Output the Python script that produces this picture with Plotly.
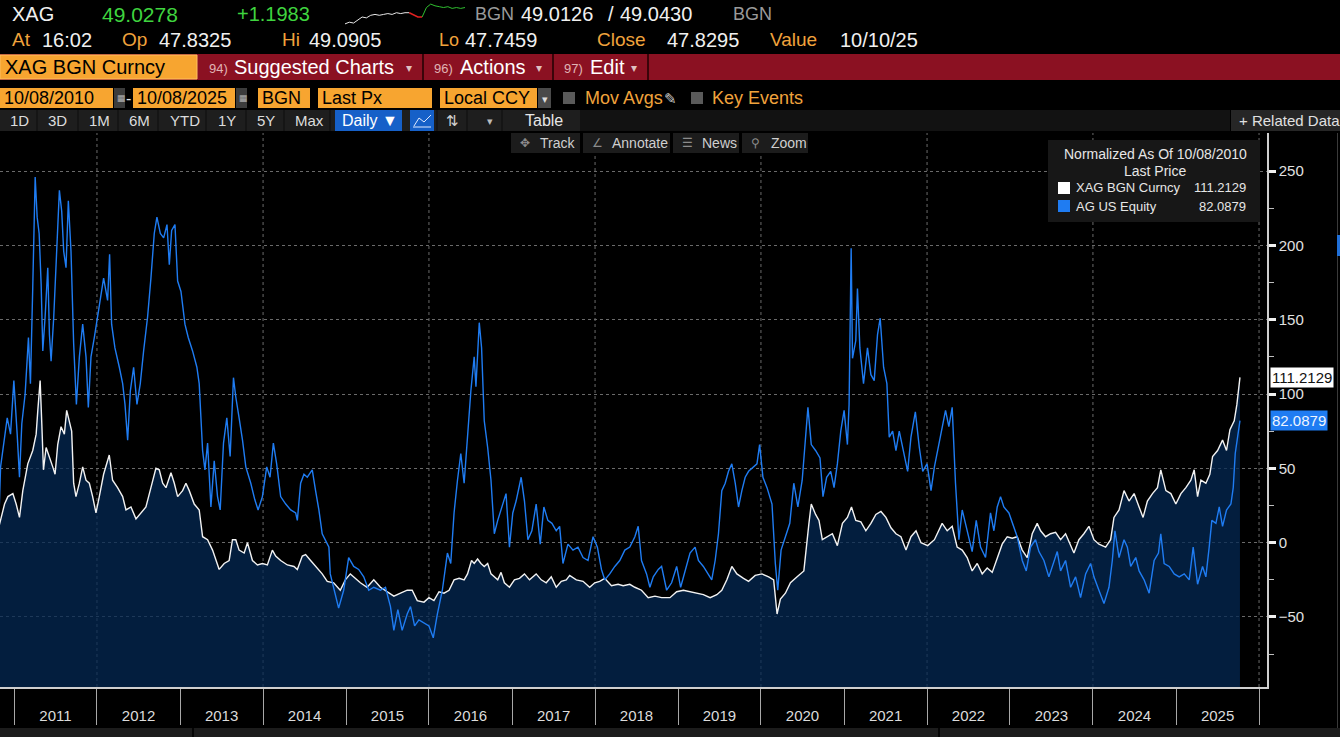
import pandas as pd
import numpy as np
import plotly.graph_objects as go

W, H = 1340, 737
FONT = "Liberation Sans, Arial, sans-serif"

# Normalized % change since 10/08/2010 (decimal year -> value)
xag_t = [2010.770, 2010.806, 2010.846, 2010.886, 2010.926, 2010.986, 2011.026, 2011.066, 2011.106, 2011.166,
         2011.226, 2011.267, 2011.287, 2011.315, 2011.335, 2011.355, 2011.387, 2011.427, 2011.467, 2011.495,
         2011.527, 2011.567, 2011.607, 2011.635, 2011.667, 2011.695, 2011.719, 2011.747, 2011.788, 2011.828,
         2011.868, 2011.908, 2011.948, 2011.988, 2012.028, 2012.080, 2012.148, 2012.188, 2012.248, 2012.309,
         2012.349, 2012.409, 2012.469, 2012.529, 2012.589, 2012.649, 2012.709, 2012.749, 2012.790, 2012.830,
         2012.890, 2012.930, 2012.970, 2013.030, 2013.070, 2013.110, 2013.170, 2013.230, 2013.271, 2013.331,
         2013.391, 2013.471, 2013.531, 2013.591, 2013.631, 2013.671, 2013.711, 2013.772, 2013.812, 2013.872,
         2013.932, 2013.992, 2014.052, 2014.112, 2014.152, 2014.212, 2014.293, 2014.373, 2014.413, 2014.473,
         2014.513, 2014.573, 2014.633, 2014.713, 2014.774, 2014.851, 2014.931, 2014.992, 2015.052, 2015.113,
         2015.173, 2015.254, 2015.335, 2015.415, 2015.496, 2015.577, 2015.657, 2015.738, 2015.798, 2015.859,
         2015.940, 2016.000, 2016.060, 2016.121, 2016.181, 2016.242, 2016.302, 2016.363, 2016.423, 2016.464,
         2016.512, 2016.544, 2016.585, 2016.625, 2016.665, 2016.706, 2016.746, 2016.786, 2016.827, 2016.867,
         2016.907, 2016.968, 2017.028, 2017.089, 2017.149, 2017.210, 2017.290, 2017.351, 2017.411, 2017.472,
         2017.532, 2017.593, 2017.653, 2017.694, 2017.774, 2017.855, 2017.935, 2017.996, 2018.056, 2018.117,
         2018.198, 2018.278, 2018.339, 2018.419, 2018.480, 2018.560, 2018.641, 2018.722, 2018.802, 2018.903,
         2018.984, 2019.065, 2019.145, 2019.226, 2019.306, 2019.387, 2019.468, 2019.528, 2019.589, 2019.649,
         2019.710, 2019.790, 2019.851, 2019.931, 2020.012, 2020.093, 2020.153, 2020.194, 2020.234, 2020.294,
         2020.355, 2020.435, 2020.516, 2020.577, 2020.605, 2020.657, 2020.698, 2020.738, 2020.798, 2020.859,
         2020.919, 2020.980, 2021.040, 2021.089, 2021.141, 2021.202, 2021.262, 2021.323, 2021.383, 2021.444,
         2021.504, 2021.565, 2021.625, 2021.685, 2021.746, 2021.806, 2021.867, 2021.927, 2022.008, 2022.089,
         2022.182, 2022.243, 2022.303, 2022.363, 2022.424, 2022.484, 2022.544, 2022.605, 2022.665, 2022.725,
         2022.786, 2022.846, 2022.906, 2022.967, 2023.027, 2023.087, 2023.148, 2023.208, 2023.268, 2023.328,
         2023.369, 2023.429, 2023.489, 2023.550, 2023.610, 2023.670, 2023.731, 2023.771, 2023.831, 2023.891,
         2023.952, 2024.012, 2024.072, 2024.153, 2024.213, 2024.253, 2024.314, 2024.374, 2024.434, 2024.495,
         2024.555, 2024.603, 2024.655, 2024.716, 2024.776, 2024.816, 2024.877, 2024.937, 2024.997, 2025.058,
         2025.118, 2025.178, 2025.218, 2025.259, 2025.299, 2025.359, 2025.407, 2025.440, 2025.500, 2025.560,
         2025.608, 2025.649, 2025.701, 2025.733, 2025.770]
xag_v = [0, 8, 17, 26, 31, 33, 26, 17, 35, 53,
         62, 73, 89, 109, 80, 49, 64, 58, 51, 46,
         66, 78, 73, 89, 82, 75, 40, 31, 40, 51,
         42, 40, 31, 20, 31, 46, 59, 42, 37, 31,
         22, 24, 16, 20, 24, 37, 50, 49, 40, 37,
         47, 40, 31, 35, 40, 35, 26, 22, 4, 2,
         -5, -18, -14, -12, 2, 2, -5, -7, 0, -12,
         -15, -14, -15, -5, -9, -12, -15, -16, -18, -9,
         -8, -12, -16, -21, -26, -27, -32, -25, -21, -24,
         -27, -30, -25, -30, -33, -36, -34, -32, -32, -39,
         -40, -37, -39, -33, -34, -32, -25, -24, -25, -21,
         -12, -14, -11, -14, -16, -14, -21, -23, -25, -20,
         -27, -30, -25, -24, -21, -25, -21, -25, -27, -23,
         -30, -26, -25, -22, -25, -26, -30, -27, -26, -24,
         -29, -28, -29, -28, -30, -32, -37, -36, -37, -37,
         -33, -32, -33, -34, -35, -37, -35, -32, -25, -16,
         -21, -24, -26, -22, -21, -23, -25, -48, -38, -34,
         -27, -23, -19, 13, 26, 19, 15, 2, 4, 6,
         -2, 13, 17, 24, 15, 14, 8, 13, 19, 21,
         17, 10, 6, 4, -5, 4, 8, 0, -2, 2,
         13, 8, 11, -3, -5, -10, -19, -14, -21, -17,
         -20, -10, -1, 4, 3, 4, -5, -10, 6, 13,
         8, 4, 6, 7, 2, 6, -2, -7, 2, 6,
         11, 2, -1, -3, 2, 17, 22, 35, 28, 33,
         24, 17, 28, 33, 37, 49, 35, 33, 26, 33,
         37, 42, 49, 31, 42, 40, 46, 58, 62, 69,
         62, 76, 82, 93, 111.2129]

ag_t = [2010.770, 2010.806, 2010.838, 2010.878, 2010.918, 2010.958, 2010.998, 2011.038, 2011.066, 2011.094,
        2011.134, 2011.174, 2011.198, 2011.226, 2011.255, 2011.279, 2011.303, 2011.327, 2011.347, 2011.375,
        2011.407, 2011.427, 2011.447, 2011.479, 2011.507, 2011.547, 2011.575, 2011.599, 2011.627, 2011.655,
        2011.687, 2011.719, 2011.752, 2011.788, 2011.828, 2011.868, 2011.896, 2011.928, 2011.968, 2012.008,
        2012.048, 2012.080, 2012.128, 2012.152, 2012.176, 2012.216, 2012.269, 2012.309, 2012.337, 2012.369,
        2012.401, 2012.441, 2012.481, 2012.521, 2012.561, 2012.609, 2012.649, 2012.689, 2012.721, 2012.762,
        2012.802, 2012.842, 2012.870, 2012.898, 2012.938, 2012.970, 2013.010, 2013.058, 2013.098, 2013.150,
        2013.202, 2013.230, 2013.271, 2013.299, 2013.331, 2013.371, 2013.411, 2013.451, 2013.483, 2013.523,
        2013.563, 2013.603, 2013.643, 2013.671, 2013.711, 2013.752, 2013.792, 2013.852, 2013.900, 2013.940,
        2013.992, 2014.044, 2014.084, 2014.124, 2014.164, 2014.212, 2014.273, 2014.333, 2014.393, 2014.413,
        2014.453, 2014.493, 2014.533, 2014.593, 2014.633, 2014.673, 2014.713, 2014.753, 2014.794, 2014.810,
        2014.851, 2014.911, 2014.972, 2015.032, 2015.093, 2015.153, 2015.214, 2015.274, 2015.335, 2015.415,
        2015.476, 2015.536, 2015.577, 2015.625, 2015.677, 2015.738, 2015.778, 2015.827, 2015.879, 2015.940,
        2016.000, 2016.052, 2016.101, 2016.161, 2016.222, 2016.262, 2016.302, 2016.343, 2016.383, 2016.423,
        2016.464, 2016.504, 2016.544, 2016.565, 2016.605, 2016.633, 2016.665, 2016.706, 2016.746, 2016.786,
        2016.827, 2016.867, 2016.927, 2016.968, 2017.008, 2017.048, 2017.109, 2017.149, 2017.190, 2017.238,
        2017.290, 2017.339, 2017.383, 2017.431, 2017.480, 2017.532, 2017.573, 2017.613, 2017.673, 2017.734,
        2017.794, 2017.855, 2017.915, 2017.976, 2018.028, 2018.077, 2018.117, 2018.177, 2018.238, 2018.298,
        2018.359, 2018.419, 2018.480, 2018.520, 2018.560, 2018.621, 2018.661, 2018.702, 2018.762, 2018.802,
        2018.863, 2018.923, 2018.984, 2019.032, 2019.085, 2019.145, 2019.206, 2019.246, 2019.306, 2019.367,
        2019.407, 2019.448, 2019.488, 2019.528, 2019.569, 2019.609, 2019.649, 2019.690, 2019.730, 2019.770,
        2019.810, 2019.851, 2019.911, 2019.952, 2019.984, 2020.024, 2020.073, 2020.133, 2020.173, 2020.202,
        2020.242, 2020.294, 2020.347, 2020.395, 2020.444, 2020.496, 2020.536, 2020.565, 2020.605, 2020.657,
        2020.710, 2020.746, 2020.790, 2020.839, 2020.879, 2020.919, 2020.960, 2021.000, 2021.040, 2021.060,
        2021.085, 2021.101, 2021.141, 2021.161, 2021.190, 2021.234, 2021.282, 2021.323, 2021.363, 2021.403,
        2021.435, 2021.476, 2021.516, 2021.544, 2021.585, 2021.625, 2021.665, 2021.726, 2021.766, 2021.806,
        2021.859, 2021.907, 2021.948, 2022.000, 2022.048, 2022.089, 2022.129, 2022.182, 2022.223, 2022.263,
        2022.303, 2022.343, 2022.384, 2022.424, 2022.484, 2022.544, 2022.593, 2022.645, 2022.705, 2022.765,
        2022.806, 2022.846, 2022.886, 2022.926, 2022.987, 2023.027, 2023.087, 2023.148, 2023.196, 2023.248,
        2023.308, 2023.349, 2023.409, 2023.469, 2023.530, 2023.570, 2023.610, 2023.670, 2023.731, 2023.791,
        2023.851, 2023.912, 2023.972, 2024.012, 2024.072, 2024.133, 2024.193, 2024.233, 2024.265, 2024.314,
        2024.374, 2024.414, 2024.454, 2024.515, 2024.555, 2024.615, 2024.676, 2024.736, 2024.788, 2024.816,
        2024.856, 2024.917, 2024.977, 2025.037, 2025.098, 2025.158, 2025.206, 2025.259, 2025.319, 2025.359,
        2025.399, 2025.431, 2025.480, 2025.520, 2025.560, 2025.608, 2025.661, 2025.689, 2025.713, 2025.741,
        2025.770]
ag_v = [0, -5, 51, 67, 84, 73, 109, 73, 44, 80,
        100, 138, 107, 172, 246, 219, 208, 174, 129, 152,
        185, 140, 122, 152, 185, 237, 223, 196, 185, 230,
        196, 134, 93, 125, 147, 125, 91, 125, 138, 152,
        169, 178, 163, 194, 147, 131, 118, 107, 93, 69,
        102, 118, 93, 107, 129, 152, 178, 208, 219, 208,
        205, 214, 187, 210, 214, 176, 169, 147, 138, 129,
        118, 107, 62, 49, 67, 24, 55, 31, 22, 67,
        84, 58, 111, 98, 84, 69, 51, 40, 29, 22,
        31, 51, 44, 67, 53, 31, 26, 22, 20, 15,
        40, 46, 44, 49, 35, 22, 6, 2, -3, -21,
        -30, -44, -32, -10, -16, -18, -23, -32, -30, -32,
        -30, -43, -59, -45, -59, -48, -43, -56, -52, -54,
        -56, -64, -48, -32, -7, -14, 20, 42, 60, 40,
        73, 102, 125, 105, 148, 131, 82, 64, 42, 6,
        15, 22, 33, -3, 20, 28, 44, 28, 2, 8,
        26, -1, 24, 15, 13, 8, 11, -14, -1, -5,
        -3, -10, -12, 4, -3, -18, -25, -21, -16, -12,
        -5, -3, 4, 11, -12, -21, -30, -23, -18, -16,
        -32, -27, -16, -30, -19, -7, -3, -12, -16, -21,
        -25, -12, 6, 35, 40, 48, 53, 40, 24, 35,
        44, 48, 51, 53, 66, 44, 37, 26, -14, -32,
        -5, 4, 13, 40, 24, 42, 71, 91, 66, 62,
        57, 31, 44, 48, 37, 53, 75, 89, 66, 93,
        198, 124, 136, 171, 131, 107, 131, 113, 109, 140,
        151, 118, 107, 71, 75, 62, 75, 60, 48, 71,
        88, 64, 48, 53, 35, 51, 62, 78, 89, 78,
        91, 40, 2, 22, 8, -6, 15, -3, -10, 20,
        8, 24, 31, 24, 20, 13, 4, -12, -19, -3,
        2, -6, -12, -23, -12, -6, -19, -12, -30, -23,
        -37, -21, -14, -23, -32, -41, -30, -12, 8, -10,
        2, -3, -16, -10, -19, -25, -34, -12, -7, 6,
        -14, -16, -21, -23, -21, -25, -3, -28, -16, -23,
        -3, 15, 13, 24, 11, 22, 26, 37, 60, 71,
        82.0879]

# intraday sparkline in the header (white -> red -> green)
spark_v = [0, 2, 1, 5, 8, 7, 10, 11, 10, 11, 12, 11, 13, 12, 13, 13, 10, 8, 8, 19, 23, 21, 20, 19, 20, 18, 19, 18, 19]
n_white, n_red = 16, 3

y_ticks = [-50, 0, 50, 100, 150, 200, 250]
y_minor = [-75, -25, 25, 75, 125, 175, 225]
Y_RANGE = [-97.1, 275.6]


def to_date(t):
    y = int(t)
    s = pd.Timestamp(y, 1, 1)
    e = pd.Timestamp(y + 1, 1, 1)
    return s + (e - s) * (t - y)


xag_d = [to_date(t) for t in xag_t]
ag_d = [to_date(t) for t in ag_t]

fig = go.Figure()
# baseline at the axis floor so the area under the silver line reaches the bottom
fig.add_trace(go.Scatter(x=[xag_d[0], xag_d[-1]], y=[Y_RANGE[0], Y_RANGE[0]], mode='lines',
                         line=dict(width=0), hoverinfo='skip', showlegend=False))
fig.add_trace(go.Scatter(x=xag_d, y=xag_v, mode='lines', fill='tonexty', fillcolor='rgba(4,40,84,0.74)',
                         line=dict(width=0), hoverinfo='skip', showlegend=False))
fig.add_trace(go.Scatter(x=xag_d, y=xag_v, mode='lines', name='XAG BGN Curncy',
                         line=dict(color='#f2f2f2', width=1.4), showlegend=False))
fig.add_trace(go.Scatter(x=ag_d, y=ag_v, mode='lines', name='AG US Equity',
                         line=dict(color='#1f7cf2', width=1.4), showlegend=False))

# sparkline
sx = list(range(len(spark_v)))
fig.add_trace(go.Scatter(x=sx[:n_white], y=spark_v[:n_white], mode='lines', line=dict(color='#e8e8e8', width=1),
                         xaxis='x2', yaxis='y2', showlegend=False, hoverinfo='skip'))
fig.add_trace(go.Scatter(x=sx[n_white - 1:n_white + n_red], y=spark_v[n_white - 1:n_white + n_red], mode='lines',
                         line=dict(color='#e02020', width=1.5), xaxis='x2', yaxis='y2', showlegend=False, hoverinfo='skip'))
fig.add_trace(go.Scatter(x=sx[n_white + n_red - 1:], y=spark_v[n_white + n_red - 1:], mode='lines',
                         line=dict(color='#30c030', width=1), xaxis='x2', yaxis='y2', showlegend=False, hoverinfo='skip'))

ann = []
shapes = []


def txt(s, x, y, color='#e6e6e6', size=16, anchor='left'):
    ann.append(dict(text=s, x=x / W, y=1 - y / H, xref='paper', yref='paper', xanchor=anchor, yanchor='middle',
                    showarrow=False, font=dict(color=color, size=size, family=FONT)))


def box(x0, y0, x1, y1, fill, line=None):
    shapes.append(dict(type='rect', xref='paper', yref='paper', x0=x0 / W, x1=x1 / W, y0=1 - y1 / H, y1=1 - y0 / H,
                       fillcolor=fill, line=dict(width=1 if line else 0, color=line or fill), layer='above'))


def vline(x, y0, y1, color, width=1):
    shapes.append(dict(type='line', xref='paper', yref='paper', x0=x / W, x1=x / W, y0=1 - y1 / H, y1=1 - y0 / H,
                       line=dict(color=color, width=width), layer='above'))


ORANGE = '#f0a33c'
GREEN = '#3fd43f'
AMBER = '#f7a530'

# row 1
txt('XAG', 10, 14, '#f0f0f0', 20)
txt('49.0278', 100, 14, GREEN, 21)
txt('+1.1983', 235, 14, GREEN, 20)
txt('BGN', 473, 14, '#9a9a9a', 18)
txt('49.0126', 519, 14, '#f0f0f0', 20)
txt('/', 606, 14, '#f0f0f0', 20)
txt('49.0430', 618, 14, '#f0f0f0', 20)
txt('BGN', 731, 14, '#9a9a9a', 18)
# row 2
for s, x, c, sz in [('At', 10, ORANGE, 19), ('16:02', 40, '#f0f0f0', 20), ('Op', 120, ORANGE, 19),
                    ('47.8325', 157, '#f0f0f0', 20), ('Hi', 280, ORANGE, 19), ('49.0905', 307, '#f0f0f0', 20),
                    ('Lo', 437, ORANGE, 18), ('47.7459', 463, '#f0f0f0', 20), ('Close', 595, ORANGE, 19),
                    ('47.8295', 665, '#f0f0f0', 20), ('Value', 768, ORANGE, 19), ('10/10/25', 838, '#f0f0f0', 20)]:
    txt(s, x, 40, c, sz)

# row 3 - red menu band
box(0, 54, W, 80, '#8b1122')
box(0, 55, 197, 79, AMBER, '#ffc060')
txt('XAG BGN Curncy', 3, 67, '#000000', 20)
for x in [423, 553, 648]:
    vline(x, 54, 80, '#3a0409', 2)
txt('94)', 207, 68, '#e0b4b4', 13)
txt('Suggested Charts', 232, 67, '#ffffff', 20)
txt('▾', 404, 68, '#e0c0c0', 12)
txt('96)', 432, 68, '#e0b4b4', 13)
txt('Actions', 458, 67, '#ffffff', 20)
txt('▾', 534, 68, '#e0c0c0', 12)
txt('97)', 562, 68, '#e0b4b4', 13)
txt('Edit', 588, 67, '#ffffff', 20)
txt('▾', 629, 68, '#e0c0c0', 12)

# row 4 - inputs
for x0, x1, s in [(0, 113, '10/08/2010'), (133, 235, '10/08/2025'), (258, 310, 'BGN'), (318, 432, 'Last Px'),
                  (440, 537, 'Local CCY')]:
    box(x0, 88, x1, 108, AMBER)
    txt(s, x0 + 2, 98, '#000000', 18)
for x0 in [114, 236]:
    box(x0, 88, x0 + 11, 108, '#3c3c3c')
    txt('▦', x0 + 1, 98, '#b0b0b0', 9)
txt('-', 124, 98, '#e6e6e6', 16)
box(538, 88, 551, 108, '#4a4a4a')
txt('▾', 540, 99, '#dddddd', 11)
box(563, 92, 575, 104, '#5a5a5a')
txt('Mov Avgs', 583, 98, ORANGE, 18)
txt('✎', 662, 98, '#c8c8c8', 15)
box(691, 92, 703, 104, '#5a5a5a')
txt('Key Events', 710, 98, ORANGE, 18)

# row 5 - toolbar
box(0, 110, 580, 131, '#1e1e1e')
box(580, 110, 1230, 131, '#121212')
box(1231, 110, W, 131, '#262626')
for x in [37, 78, 118, 158, 206, 246, 284, 330, 437, 467, 502]:
    vline(x, 110, 131, '#0c0c0c', 1)
for s, x in [('1D', 8, ), ('3D', 46), ('1M', 87), ('6M', 127), ('YTD', 168), ('1Y', 216), ('5Y', 255),
             ('Max', 293)]:
    txt(s, x, 120, '#dcdcdc', 15)
box(335, 110, 402, 131, '#1660c8')
txt('Daily ▼', 340, 120, '#ffffff', 16)
box(410, 110, 434, 131, '#1660c8')
shapes.append(dict(type='path', xref='paper', yref='paper', layer='above', line=dict(color='#dfe9ff', width=1),
                   path='M {:.5f},{:.5f} L {:.5f},{:.5f} L {:.5f},{:.5f} L {:.5f},{:.5f}'.format(
                       414 / W, 1 - 126 / H, 419 / W, 1 - 118 / H, 424 / W, 1 - 122 / H, 431 / W, 1 - 115 / H)))
shapes.append(dict(type='line', xref='paper', yref='paper', layer='above', line=dict(color='#dfe9ff', width=1),
                   x0=413 / W, x1=431 / W, y0=1 - 127 / H, y1=1 - 127 / H))
txt('⇅', 444, 120, '#cfcfcf', 15)
txt('▾', 485, 121, '#bbbbbb', 11)
txt('Table', 523, 120, '#e6e6e6', 16)
txt('+ Related Data', 1237, 120, '#e0e0e0', 15)

# row 6 - chart tools
for x0, x1, icon, s in [(511, 580, '✥', 'Track'), (583, 670, '∠', 'Annotate'), (673, 739, '☰', 'News'),
                        (742, 808, '⚲', 'Zoom')]:
    box(x0, 133, x1, 153, '#1c1c1c')
    txt(icon, x0 + 7, 143, '#8c8c8c', 12)
    txt(s, x0 + 27, 143, '#cfcfcf', 14)

# legend panel
box(1048, 140, 1260, 222, '#171717')
txt('Normalized As Of 10/08/2010', 1155, 154, '#e6e6e6', 14, 'center')
txt('Last Price', 1155, 171, '#e6e6e6', 14, 'center')
box(1058, 182, 1070, 194, '#ffffff')
txt('XAG BGN Curncy', 1074, 188, '#e6e6e6', 13)
txt(f'{xag_v[-1]:.4f}', 1248, 188, '#e6e6e6', 13, 'right')
box(1058, 200, 1070, 212, '#1f7cf2')
txt('AG US Equity', 1074, 206, '#e6e6e6', 13)
txt(f'{ag_v[-1]:.4f}', 1248, 206, '#e6e6e6', 13, 'right')

# last-value tags on the right axis
ann.append(dict(text=f'{xag_v[-1]:.4f}', x=1270 / W, y=xag_v[-1], xref='paper', yref='y', xanchor='left',
                yanchor='middle', showarrow=False, bgcolor='#ffffff', borderpad=1,
                font=dict(color='#111111', size=15, family=FONT)))
ann.append(dict(text=f'{ag_v[-1]:.4f}', x=1270 / W, y=ag_v[-1], xref='paper', yref='y', xanchor='left',
                yanchor='middle', showarrow=False, bgcolor='#1f7cf2', borderpad=1,
                font=dict(color='#eef4ff', size=15, family=FONT)))

# bottom strip and right edge
box(0, 728, W, H, '#1c1c1c')
vline(193, 728, H, '#050505', 2)
vline(939, 728, H, '#050505', 2)
vline(1337.5, 133, 728, '#3a3a3a', 1)
box(1337, 235, W, 256, '#1f6fd8')

# dotted vertical grid every two years
for yr in range(2012, 2027, 2):
    shapes.append(dict(type='line', xref='x', yref='y domain', x0=f'{yr}-01-01', x1=f'{yr}-01-01', y0=0, y1=1,
                       line=dict(color='#6a6a6a', width=1, dash='dot'), layer='below'))

fig.update_layout(
    width=W, height=H,
    margin=dict(l=0, r=0, t=0, b=0),
    paper_bgcolor='#000000', plot_bgcolor='#000000',
    font=dict(family=FONT, color='#e6e6e6'),
    showlegend=False,
    annotations=ann, shapes=shapes,
    xaxis=dict(domain=[0, 1267 / W], type='date',
               range=[to_date(2010.831), to_date(2026.096)],
               tick0='2011-01-01', dtick='M12', tickformat='%Y', ticklabelmode='period',
               ticks='outside', ticklen=36, tickwidth=1, tickcolor='#a8a8a8',
               ticklabelstandoff=-22,
               tickfont=dict(size=15, color='#dcdcdc'),
               showgrid=False, zeroline=False,
               showline=True, linecolor='#cfcfcf', linewidth=1.5, automargin=False, fixedrange=True),
    yaxis=dict(domain=[(H - 687) / H, (H - 133) / H], side='right', anchor='x',
               range=Y_RANGE, tickvals=y_ticks, ticks='outside', ticklen=7, tickwidth=3, tickcolor='#f0f0f0',
               minor=dict(tickvals=y_minor, ticks='outside', ticklen=5, tickwidth=1, tickcolor='#bdbdbd'),
               tickfont=dict(size=15, color='#e0e0e0'),
               showgrid=True, gridcolor='#6a6a6a', griddash='dot', gridwidth=1, zeroline=False,
               showline=True, linecolor='#cfcfcf', linewidth=1.5, automargin=False, fixedrange=True),
    xaxis2=dict(domain=[345 / W, 465 / W], anchor='y2', visible=False, fixedrange=True),
    yaxis2=dict(domain=[1 - 25 / H, 1 - 3 / H], anchor='x2', visible=False, fixedrange=True),
)

# the page's default body margin would shift the figure by 8px
fig.write_html("out.html", config={'displayModeBar': False},
               post_script="document.body.style.margin='0px';document.body.style.overflow='hidden';")
